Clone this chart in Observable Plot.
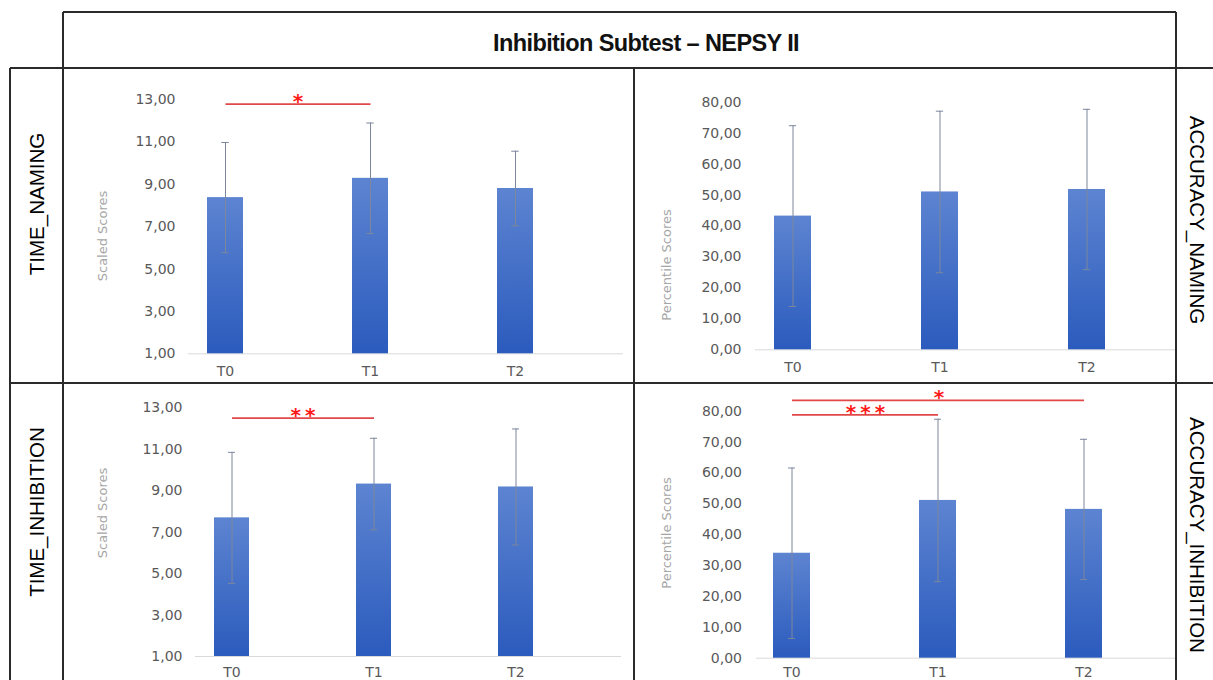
<!DOCTYPE html>
<html>
<head>
<meta charset="utf-8">
<script src="https://cdn.jsdelivr.net/npm/d3@7"></script>
<script src="https://cdn.jsdelivr.net/npm/@observablehq/plot@0.6"></script>
<style>
  html, body { margin: 0; padding: 0; background: #fff; }
  #root { position: relative; width: 1213px; height: 680px; overflow: hidden; background: #fff; }
  .ln { position: absolute; background: #2a2a2a; }
  .panel { position: absolute; }
  .lab { position: absolute; white-space: nowrap; transform: translate(-50%, -50%); }
  .rowlab { font-family: "Liberation Sans", Arial, sans-serif; font-size: 20.5px; color: #000; }
  .axlab { font-family: "DejaVu Sans", sans-serif; font-size: 13px; color: #a6a6a6; }
  #title { font-family: "Liberation Sans", Arial, sans-serif; font-weight: bold; font-size: 23.5px; color: #111; letter-spacing: -0.6px; }
</style>
</head>
<body>
<svg width="0" height="0" style="position:absolute">
  <defs>
    <linearGradient id="barGrad" x1="0" y1="0" x2="0" y2="1">
      <stop offset="0" stop-color="#5d84d1"/>
      <stop offset="1" stop-color="#2b5bbd"/>
    </linearGradient>
  </defs>
</svg>
<div id="root"></div>
<script>
// ---------------- data ----------------
const title = "Inhibition Subtest \u2013 NEPSY II";
const timepoints = ["T0", "T1", "T2"];
const leftRowLabels = ["TIME_NAMING", "TIME_INHIBITION"];
const rightRowLabels = ["ACCURACY_NAMING", "ACCURACY_INHIBITION"];
const axisTitles = ["Scaled Scores", "Percentile Scores"];
const yTicksScaled = [1, 3, 5, 7, 9, 11, 13];
const yTicksPercentile = [0, 10, 20, 30, 40, 50, 60, 70, 80];

const timeNamingMean = [8.37, 9.28, 8.80];
const timeNamingSD = [2.60, 2.61, 1.76];
const accuracyNamingMean = [43.2, 51.0, 51.8];
const accuracyNamingSD = [29.2, 26.1, 25.9];
const timeInhibitionMean = [7.69, 9.32, 9.18];
const timeInhibitionSD = [3.16, 2.21, 2.80];
const accuracyInhibitionMean = [34.0, 51.1, 48.2];
const accuracyInhibitionSD = [27.6, 26.3, 22.7];

const sigTimeNaming = [{from: "T0", to: "T1", label: "*"}];
const sigAccuracyNaming = [];
const sigTimeInhibition = [{from: "T0", to: "T1", label: "**"}];
const sigAccuracyInhibition = [{from: "T0", to: "T2", label: "*"}, {from: "T0", to: "T1", label: "***"}];

// ---------------- layout ----------------
const root = document.getElementById("root");
const fmt = d => d.toFixed(2).replace(".", ",");

const panels = [
  {mean: timeNamingMean, sd: timeNamingSD, sig: sigTimeNaming, levels: [12.78],
   domain: [1, 13], ticks: yTicksScaled, yTitle: axisTitles[0],
   left: 63, top: 68, width: 571, height: 315, mt: 31, mb: 29.7, ml: 125, mr: 11,
   pi: 0.755, po: 0.3775, align: 0.17, ytp: 13, xtp: 12, tx: 102, ty: 236},
  {mean: accuracyNamingMean, sd: accuracyNamingSD, sig: sigAccuracyNaming, levels: [],
   domain: [0, 80], ticks: yTicksPercentile, yTitle: axisTitles[1],
   left: 634, top: 68, width: 542, height: 315, mt: 33.7, mb: 33.7, ml: 121, mr: 0,
   pi: 0.751, po: 0.3026, align: 0.205, ytp: 14, xtp: 12, tx: 666, ty: 265},
  {mean: timeInhibitionMean, sd: timeInhibitionSD, sig: sigTimeInhibition, levels: [12.5],
   domain: [1, 13], ticks: yTicksScaled, yTitle: axisTitles[0],
   left: 63, top: 383, width: 571, height: 297, mt: 24.3, mb: 24, ml: 132, mr: 13,
   pi: 0.754, po: 0.377, align: 0.175, ytp: 13, xtp: 10.5, tx: 102, ty: 513},
  {mean: accuracyInhibitionMean, sd: accuracyInhibitionSD, sig: sigAccuracyInhibition, levels: [83.5, 78.8],
   domain: [0, 80], ticks: yTicksPercentile, yTitle: axisTitles[1],
   left: 634, top: 383, width: 542, height: 297, mt: 27.7, mb: 22.3, ml: 122, mr: 0,
   pi: 0.748, po: 0.3027, align: 0.19, ytp: 14.5, xtp: 9, tx: 666, ty: 533}
];

function drawPanel(p) {
  const data = timepoints.map((t, i) => ({t, mean: p.mean[i], sd: p.sd[i]}));
  const rangeW = p.width - p.ml - p.mr;
  const step = rangeW / (timepoints.length - p.pi + 2 * p.po);
  const bw = step * (1 - p.pi);
  const capInset = (bw - 7) / 2;
  const sigRows = p.sig.map((s, i) => ({...s, level: p.levels[i]}));
  const errColor = "#7c879c";
  const marks = [
    Plot.ruleY([p.domain[0]], {stroke: "#d9d9d9", strokeWidth: 1}),
    Plot.barY(data, {x: "t", y1: p.domain[0], y2: "mean", fill: "url(#barGrad)"}),
    Plot.ruleX(data, {x: "t", y1: d => d.mean - d.sd, y2: d => d.mean + d.sd, stroke: errColor, strokeWidth: 1}),
    Plot.tickY(data, {x: "t", y: d => d.mean + d.sd, stroke: errColor, strokeWidth: 1, insetLeft: capInset, insetRight: capInset}),
    Plot.tickY(data, {x: "t", y: d => d.mean - d.sd, stroke: errColor, strokeWidth: 1, insetLeft: capInset, insetRight: capInset}),
    Plot.link(sigRows, {x1: "from", x2: "to", y1: "level", y2: "level", stroke: "#e24848", strokeWidth: 1.6}),
    ...sigRows.map(s => Plot.text([s], {
      x: "from", y: "level",
      text: d => d.label.split("").join("\u2009"),
      dx: (timepoints.indexOf(s.to) - timepoints.indexOf(s.from)) * step / 2,
      dy: 4, lineAnchor: "bottom", fill: "#ff1a1a", fontSize: 20, fontWeight: "bold"
    }))
  ];
  const svg = Plot.plot({
    width: p.width, height: p.height,
    marginTop: p.mt, marginBottom: p.mb, marginLeft: p.ml, marginRight: p.mr,
    style: {background: "transparent", fontFamily: "'DejaVu Sans', sans-serif", fontSize: "14px", color: "#595959", overflow: "visible"},
    x: {domain: timepoints, paddingInner: p.pi, paddingOuter: p.po, align: p.align, label: null, tickSize: 0, tickPadding: p.xtp},
    y: {domain: p.domain, ticks: p.ticks, tickFormat: fmt, label: null, tickSize: 0, tickPadding: p.ytp},
    marks
  });
  const wrap = document.createElement("div");
  wrap.className = "panel";
  wrap.style.left = p.left + "px";
  wrap.style.top = p.top + "px";
  wrap.style.width = p.width + "px";
  wrap.style.height = p.height + "px";
  wrap.appendChild(svg);
  root.appendChild(wrap);

  addLabel(p.yTitle, "axlab", p.tx, p.ty, -90);
}

function addLabel(text, cls, x, y, rot) {
  const el = document.createElement("div");
  el.className = "lab " + cls;
  el.textContent = text;
  el.style.left = x + "px";
  el.style.top = y + "px";
  el.style.transform = `translate(-50%, -50%) rotate(${rot}deg)`;
  root.appendChild(el);
  return el;
}

function addLine(x1, y1, x2, y2) {
  const el = document.createElement("div");
  el.className = "ln";
  const t = 1.5;
  if (y1 === y2) {
    el.style.left = x1 + "px"; el.style.top = (y1 - t / 2) + "px";
    el.style.width = (x2 - x1) + "px"; el.style.height = t + "px";
  } else {
    el.style.left = (x1 - t / 2) + "px"; el.style.top = y1 + "px";
    el.style.width = t + "px"; el.style.height = (y2 - y1) + "px";
  }
  root.appendChild(el);
}

panels.forEach(drawPanel);

// title and row labels
const t = addLabel(title, "", 646, 43, 0);
t.id = "title";
addLabel(leftRowLabels[0], "rowlab", 37, 204, -90);
addLabel(leftRowLabels[1], "rowlab", 37, 512, -90);
addLabel(rightRowLabels[0], "rowlab", 1197, 220, 90);
addLabel(rightRowLabels[1], "rowlab", 1197, 535, 90);

// table grid
addLine(63, 12, 1176, 12);
addLine(10, 68, 1213, 68);
addLine(10, 383, 1213, 383);
addLine(10, 68, 10, 680);
addLine(63, 12, 63, 680);
addLine(634, 68, 634, 680);
addLine(1176, 12, 1176, 680);
</script>
</body>
</html>
